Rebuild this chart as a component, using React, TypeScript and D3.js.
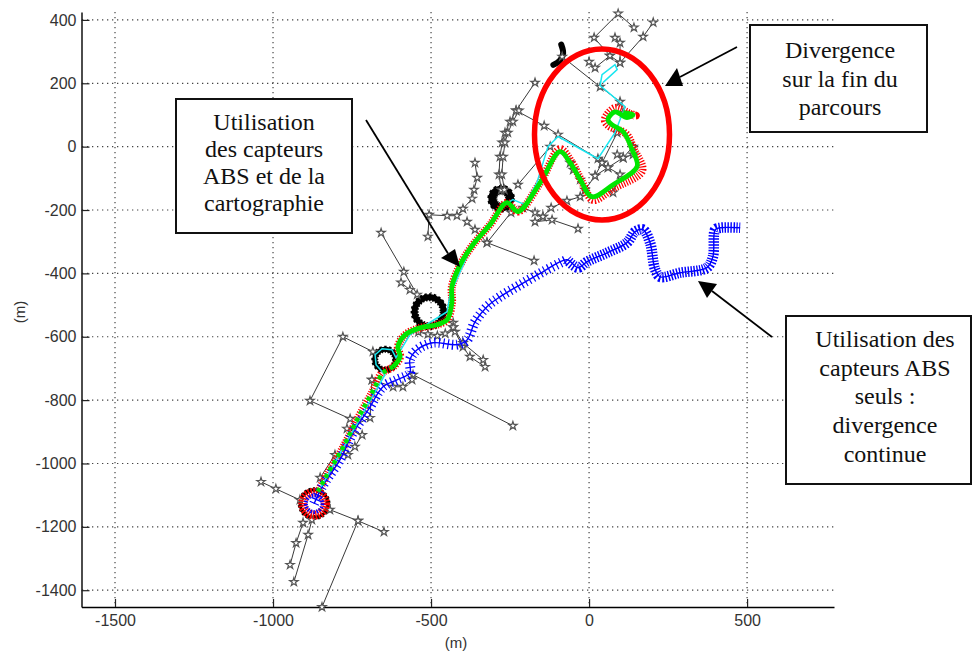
import React, { useEffect, useRef } from "react";
import * as d3 from "d3";

type P = [number, number];

const xTicks = [-1500, -1000, -500, 0, 500];
const yTicks = [400, 200, 0, -200, -400, -600, -800, -1000, -1200, -1400];

const fusedPath: P[] = [
  [-858, -1089], [-826, -1030], [-779, -951], [-734, -862], [-687, -777], [-655, -714], [-620, -695], [-598, -663],
  [-605, -632], [-582, -594], [-535, -572], [-481, -562], [-449, -546], [-434, -493], [-434, -442], [-408, -373],
  [-367, -309], [-313, -246], [-260, -177], [-225, -205], [-155, -114], [-92, -16], [-60, -51], [-28, -104], [9, -158],
  [76, -120], [152, -63], [136, -9], [108, 47], [73, 69], [60, 85], [82, 110], [120, 92], [139, 101], [108, 107],
];

const redPath: P[] = [
  [-858, -1089], [-826, -1030], [-779, -951], [-734, -862], [-687, -777], [-655, -714], [-620, -695], [-598, -663],
  [-605, -632], [-582, -594], [-535, -572], [-481, -562], [-449, -546], [-434, -493], [-434, -442], [-408, -373],
  [-367, -309], [-313, -246], [-260, -177], [-225, -205], [-155, -114], [-92, -8], [-54, -51], [-22, -112], [12, -168],
  [76, -132], [168, -76], [142, -9], [117, 40], [62, 66], [50, 85], [82, 122], [130, 104], [148, 98], [108, 107],
];

const absOnlyPath: P[] = [
  [-870, -1127], [-845, -1074], [-788, -988], [-747, -903], [-699, -831], [-652, -758], [-608, -736], [-567, -714],
  [-567, -673], [-544, -641], [-494, -619], [-418, -625], [-386, -610], [-361, -553], [-323, -505], [-282, -474],
  [-218, -436], [-146, -395], [-70, -357], [-35, -382], [-6, -363], [57, -335], [120, -303], [146, -268], [171, -262],
  [193, -303], [209, -388], [225, -411], [288, -398], [373, -382], [392, -347], [399, -262], [415, -256], [478, -256],
];

const cyanPath: P[] = [
  [-848, -1074], [-646, -720], [-674, -688], [-677, -657], [-655, -638], [-624, -641], [-611, -666], [-567, -594],
  [-449, -521], [-440, -467], [-377, -325], [-266, -183], [-241, -167], [-203, -183], [-165, -114], [-130, 0], [-98, 32],
  [28, -38], [82, 44], [114, 126], [35, 193], [41, 227], [82, 259], [89, 243], [44, 202],
];

const starBranches: P[][] = [
  [[-684, -647], [-779, -600], [-883, -802], [-756, -859]],
  [[-557, -720], [-241, -881]],
  [[-1038, -1058], [-991, -1080], [-915, -1115]],
  [[-820, -1146], [-731, -1181], [-649, -1216]],
  [[-731, -1181], [-845, -1453]],
  [[-905, -1187], [-927, -1251], [-946, -1320]],
  [[-877, -1178], [-889, -1225], [-934, -1374]],
  [[-851, -1045], [-804, -973], [-763, -973], [-741, -947], [-718, -910], [-766, -890], [-693, -856], [-687, -736]],
  [[-687, -736], [-620, -758], [-589, -758], [-560, -736]],
  [[-658, -272], [-586, -395], [-544, -467]],
  [[-595, -429], [-567, -452]],
  [[-510, -284], [-506, -215], [-449, -218], [-418, -218], [-399, -196], [-370, -164], [-364, -136], [-354, -98], [-361, -51]],
  [[-386, -237], [-361, -262], [-323, -303], [-174, -360]],
  [[-323, -303], [-247, -208]],
  [[-430, -556], [-424, -584], [-399, -632], [-377, -663], [-329, -695]],
  [[-430, -570], [-399, -620], [-335, -673]],
  [[-540, -585], [-510, -592], [-480, -597], [-455, -590], [-430, -570]],
  [[-85, 284], [35, 189], [98, 142], [108, 107]],
  [[203, 392], [171, 347], [98, 265], [66, 287], [19, 249], [0, 268]],
  [[66, 287], [16, 344], [92, 420], [142, 376]],
  [[82, 344], [98, 328], [98, 265]],
  [[-171, 202], [-231, 114], [-142, 66], [-98, 38], [28, -38], [41, -51], [89, 44]],
  [[-231, 114], [-250, 79], [-266, 44], [-275, 13], [-282, -32], [-285, -88], [-278, -136]],
  [[-222, 114], [-241, 79], [-257, 44], [-266, 13], [-272, -32], [-276, -88], [-268, -136]],
  [[-225, -120], [-123, 0]],
  [[41, -51], [19, -92], [-28, -158], [-70, -171], [-120, -193], [-146, -221], [-171, -208], [-209, -193]],
  [[89, -25], [108, -35], [139, 0]],
  [[139, -25], [108, -35], [60, -66], [19, -92]],
  [[76, -145], [98, -88], [60, -66], [41, -51]],
  [[-35, -259], [-117, -231], [-171, -237], [-146, -221]],
  [[-60, -51], [-50, -73], [-28, -104], [-13, -136]],
];

const denseBlob: P[] = [[-113, 258], [-92, 272], [-82, 295], [-88, 322]];

const starRings: { x: number; y: number; r: number; w: number }[] = [
  { x: -870, y: -1127, r: 44, w: 3 },
  { x: -645, y: -672, r: 33, w: 5 },
  { x: -506, y: -521, r: 46, w: 6 },
  { x: -278, y: -164, r: 28, w: 8 },
];

const boxes = [
  { x0: 176, y0: 99, x1: 352, y1: 233, cx: 264, lines: ["Utilisation", "des capteurs", "ABS et de la", "cartographie"], first: 130, step: 27 },
  { x0: 750, y0: 25, x1: 927, y1: 132, cx: 840, lines: ["Divergence", "sur la fin du", "parcours"], first: 58, step: 28.5 },
  { x0: 786, y0: 316, x1: 971, y1: 484, cx: 885, lines: ["Utilisation des", "capteurs ABS", "seuls :", "divergence", "continue"], first: 347, step: 28.7 },
];

const arrows = [
  { from: [737, 47], head: [[665, 86], [677, 68], [683, 86]] },
  { from: [366, 120], head: [[460, 267], [441, 258], [455, 249]] },
  { from: [772, 337], head: [[698, 281], [717, 284], [707, 298]] },
];

export default function App() {
  const ref = useRef<SVGSVGElement>(null);
  useEffect(() => {
    const svg = d3.select(ref.current!);
    svg.selectAll("*").remove();
    const x = d3.scaleLinear().domain([-1606, 775]).range([81.5, 834]);
    const y = d3.scaleLinear().domain([-1453, 425]).range([607, 12]);
    const px = (v: number) => Math.abs(x(v) - x(0));

    // grid
    const grid = svg.append("g").attr("stroke", "#444").attr("stroke-width", 1.2).attr("stroke-dasharray", "1.3 3.7");
    xTicks.forEach((t) => grid.append("line").attr("x1", x(t)).attr("x2", x(t)).attr("y1", 12).attr("y2", 607));
    yTicks.forEach((t) => grid.append("line").attr("y1", y(t)).attr("y2", y(t)).attr("x1", 82).attr("x2", 834));

    // axes
    const styleAxis = (g: any) => {
      g.attr("font-family", "'Liberation Sans', Arial, sans-serif").attr("font-size", 16);
      g.selectAll("text").attr("fill", "#333");
      g.selectAll("path").attr("stroke", "#000").attr("stroke-width", 1.4);
      g.selectAll("line").attr("stroke", "#222").attr("stroke-width", 1.2);
    };
    svg.append("g").attr("transform", "translate(0,607)")
      .call(d3.axisBottom(x).tickValues(xTicks).tickSize(-8).tickSizeOuter(0).tickPadding(8).tickFormat((d: any) => String(d)) as any)
      .call(styleAxis);
    svg.append("g").attr("transform", "translate(81.5,0)")
      .call(d3.axisLeft(y).tickValues(yTicks).tickSize(-8).tickSizeOuter(0).tickPadding(5).tickFormat((d: any) => String(d)) as any)
      .call(styleAxis);
    svg.append("text").attr("x", 456).attr("y", 648).attr("text-anchor", "middle")
      .attr("font-family", "'Liberation Sans', Arial, sans-serif").attr("font-size", 15).attr("fill", "#333").text("(m)");
    svg.append("text").attr("transform", "translate(25,312) rotate(-90)").attr("text-anchor", "middle")
      .attr("font-family", "'Liberation Sans', Arial, sans-serif").attr("font-size", 15).attr("fill", "#333").text("(m)");

    const line = d3.line<P>().x((d) => x(d[0])).y((d) => y(d[1]));
    const smooth = d3.line<P>().x((d) => x(d[0])).y((d) => y(d[1])).curve(d3.curveCatmullRom.alpha(0.5));

    // black rings of stars
    const rings = svg.append("g").attr("fill", "none");
    starRings.forEach((c) => {
      rings.append("circle").attr("cx", x(c.x)).attr("cy", y(c.y)).attr("r", px(c.r))
        .attr("stroke", "#000").attr("stroke-width", c.w);
      rings.append("circle").attr("cx", x(c.x)).attr("cy", y(c.y)).attr("r", px(c.r))
        .attr("stroke", "#000").attr("stroke-width", c.w + 2).attr("stroke-dasharray", "2 2");
    });
    svg.append("path").attr("d", smooth(denseBlob)).attr("fill", "none").attr("stroke", "#000")
      .attr("stroke-width", 6).attr("stroke-linecap", "round");

    // star branches
    const bl = svg.append("g").attr("fill", "none").attr("stroke", "#222").attr("stroke-width", 0.9);
    starBranches.forEach((b) => bl.append("path").attr("d", line(b)));
    const star = d3.symbol().type(d3.symbolStar).size(22)();
    const st = svg.append("g").attr("fill", "#fff").attr("stroke", "#555").attr("stroke-width", 1.2);
    starBranches.flat().forEach((p) => st.append("path").attr("d", star).attr("transform", `translate(${x(p[0])},${y(p[1])})`));

    // red hatch (ABS + map estimate)
    svg.append("circle").attr("cx", x(-870)).attr("cy", y(-1127)).attr("r", px(36)).attr("fill", "none")
      .attr("stroke", "#f00").attr("stroke-width", 9).attr("stroke-dasharray", "1.5 1");
    svg.append("path").attr("d", smooth(redPath)).attr("fill", "none").attr("stroke", "#f00")
      .attr("stroke-width", 8).attr("stroke-dasharray", "1.2 1.4");

    // blue ABS-only: hatch spacing follows the point density of the original
    const blueSplit = 18;
    const blue = svg.append("g").attr("fill", "none").attr("stroke", "#0000ff");
    blue.append("path").attr("d", smooth(absOnlyPath)).attr("stroke-width", 1.4);
    blue.append("path").attr("d", smooth(absOnlyPath.slice(0, blueSplit + 1)))
      .attr("stroke-width", 10).attr("stroke-dasharray", "1.2 3.2");
    blue.append("path").attr("d", smooth(absOnlyPath.slice(blueSplit)))
      .attr("stroke-width", 10.5).attr("stroke-dasharray", "1.4 1.5");
    svg.append("circle").attr("cx", x(-870)).attr("cy", y(-1127)).attr("r", px(26)).attr("fill", "none")
      .attr("stroke", "#00f").attr("stroke-width", 4).attr("stroke-dasharray", "1.5 1.5");

    // cyan
    svg.append("path").attr("d", line(cyanPath)).attr("fill", "none").attr("stroke", "#19e6f0").attr("stroke-width", 1.5);

    // green: dotted on the first, sparse stretch, then solid
    const split = 7;
    svg.append("path").attr("d", line(fusedPath.slice(0, split))).attr("fill", "none").attr("stroke", "#00e600")
      .attr("stroke-width", 4.5).attr("stroke-dasharray", "4 4");
    svg.append("path").attr("d", smooth(fusedPath.slice(split - 1))).attr("fill", "none").attr("stroke", "#00e600")
      .attr("stroke-width", 4.8);

    // red ellipse
    svg.append("ellipse").attr("cx", 602).attr("cy", 134.5).attr("rx", 67.5).attr("ry", 85.5).attr("fill", "none")
      .attr("stroke", "#f00").attr("stroke-width", 5.5);

    // arrows
    arrows.forEach((a) => {
      const h = a.head;
      const mx = (h[1][0] + h[2][0]) / 2;
      const my = (h[1][1] + h[2][1]) / 2;
      svg.append("line").attr("x1", a.from[0]).attr("y1", a.from[1]).attr("x2", mx).attr("y2", my)
        .attr("stroke", "#000").attr("stroke-width", 1.8);
      svg.append("polygon").attr("points", h.map((q) => q.join(",")).join(" ")).attr("fill", "#000");
    });

    // boxes
    boxes.forEach((b) => {
      svg.append("rect").attr("x", b.x0).attr("y", b.y0).attr("width", b.x1 - b.x0).attr("height", b.y1 - b.y0)
        .attr("fill", "#fff").attr("stroke", "#111").attr("stroke-width", 2);
      b.lines.forEach((l, i) => {
        svg.append("text").attr("x", b.cx).attr("y", b.first + i * b.step).attr("text-anchor", "middle")
          .attr("font-family", "'Liberation Serif', 'Times New Roman', serif").attr("font-size", 24).attr("fill", "#111").text(l);
      });
    });
  }, []);
  return <svg ref={ref} width={975} height={652} style={{ position: "absolute", left: 0, top: 0, background: "#fff" }} />;
}
